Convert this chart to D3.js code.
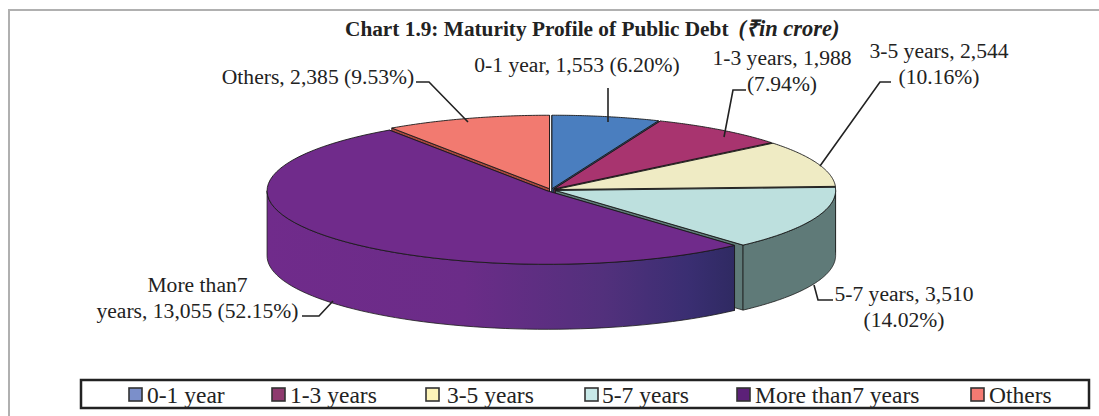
<!DOCTYPE html>
<html><head><meta charset="utf-8">
<script src="https://cdn.jsdelivr.net/npm/d3@7"></script>
<style>html,body{margin:0;padding:0;background:#fff}svg{display:block}text{font-family:"Liberation Serif",serif;fill:#222}</style>
</head><body><svg id="c" width="1099" height="416"></svg>
<script>
const categories = ["0-1 year","1-3 years","3-5 years","5-7 years","More than7 years","Others"];
const values = [1553,1988,2544,3510,13055,2385];
const topColors = ["#4a7ebf","#a8346f","#efebc4","#bde0de","#702b8b","#f27a70"];
const sideColors = ["#2f5f96","#7c2450","#a8a585","#5f7a78","#4f2f78","#a8483f"];
const legendColors = ["#7b8fca","#8e3a6e","#fdf4b8","#c8e9e8","#5c2078","#f47a72"];
const legendX = [129,272,426,585,737,971];
const legendGap = [18,18,21,17,18,18];
const labels = [
  {lines:["0-1 year, 1,553 (6.20%)"],x:577,y:72},
  {lines:["1-3 years, 1,988","(7.94%)"],x:782,y:65},
  {lines:["3-5 years, 2,544","(10.16%)"],x:939,y:58},
  {lines:["5-7 years, 3,510","(14.02%)"],x:904,y:301},
  {lines:["More than7","years, 13,055 (52.15%)"],x:197.5,y:292},
  {lines:["Others, 2,385 (9.53%)"],x:318,y:84}
];
const leaders = [
  [[608,88],[608,122]],
  [[746,90],[733,90],[724,137]],
  [[891,82],[880,82],[820,166]],
  [[833,300],[818,300],[814,285]],
  [[302,316],[319,316],[333,301]],
  [[416,82],[429,82],[468,122]]
];
const svg = d3.select("#c");
const cx=551, cy=190, rx=280, ry=73.5, depth=65, explode=5;
const defs = svg.append("defs");
const g = defs.append("linearGradient").attr("id","wall").attr("gradientUnits","userSpaceOnUse")
  .attr("x1",267).attr("x2",735).attr("y1",0).attr("y2",0);
[[0,"#702b8b"],[.42,"#6b2c88"],[.72,"#52307c"],[.9,"#3a2e72"],[1,"#2f2a62"]].forEach(s=>g.append("stop").attr("offset",s[0]).attr("stop-color",s[1]));

svg.append("path").attr("d",d3.line()([[9,416],[9,10],[1099,10]])).attr("fill","none").attr("stroke","#b0b0b0").attr("stroke-width",2);

const pie = d3.pie().sort(null).value(d=>d)(values);
const proj = (t,off)=>[off[0]+rx*Math.sin(t), off[1]-ry*Math.cos(t)];
const arcs = pie.map((p,i)=>{
  const m=(p.startAngle+p.endAngle)/2;
  return {i,a0:p.startAngle,a1:p.endAngle,m,off:[cx+explode*Math.sin(m),cy-explode*ry/rx*Math.cos(m)]};
});
const ln = d3.line();
const sample=(a,b,off,dy=0)=>d3.range(0,61).map(k=>{const t=a+(b-a)*k/60;const q=proj(t,off);return [q[0],q[1]+dy];});
const order = arcs.slice().sort((a,b)=>(-Math.cos(a.m))-(-Math.cos(b.m)));
const walls = svg.append("g");
order.forEach(d=>{
  [d.a0,d.a1].forEach(t=>{
    const q=proj(t,d.off);
    walls.append("path").attr("d",ln([d.off,q,[q[0],q[1]+depth],[d.off[0],d.off[1]+depth]])+"Z")
      .attr("fill",sideColors[d.i]).attr("stroke","#1a1a1a").attr("stroke-width",.8);
  });
  const a=Math.max(d.a0,Math.PI/2), b=Math.min(d.a1,3*Math.PI/2);
  if(b>a){
    const pts=sample(a,b,d.off).concat(sample(b,a,d.off,depth));
    walls.append("path").attr("d",ln(pts)+"Z").attr("stroke","#1a1a1a").attr("stroke-width",.8)
      .attr("fill",d.i===4?"url(#wall)":sideColors[d.i]);
  }
});
const tops = svg.append("g");
arcs.forEach(d=>{
  const pts=[d.off].concat(sample(d.a0,d.a1,d.off));
  tops.append("path").attr("d",ln(pts)+"Z").attr("fill",topColors[d.i]).attr("stroke","#1a1a1a").attr("stroke-width",.9).attr("stroke-linejoin","round");
});
svg.append("g").selectAll("path").data(leaders).join("path").attr("d",d=>ln(d)).attr("fill","none").attr("stroke","#222").attr("stroke-width",1.6);
labels.forEach(l=>{
  const t=svg.append("text").attr("text-anchor","middle").attr("font-size",21.6);
  l.lines.forEach((s,i)=>t.append("tspan").attr("x",l.x).attr("y",l.y+i*26).text(s));
});
const title=svg.append("text").attr("x",345).attr("y",36).attr("font-size",21.3).attr("font-weight","bold");
title.append("tspan").text("Chart 1.9: Maturity Profile of Public Debt");
title.append("tspan").attr("dx",10).attr("font-size",22.5).attr("font-style","italic").text("(₹in crore)");
svg.append("rect").attr("x",81).attr("y",380).attr("width",1008).attr("height",28).attr("fill","#fff").attr("stroke","#222").attr("stroke-width",2.5);
categories.forEach((c,i)=>{
  svg.append("rect").attr("x",legendX[i]).attr("y",388).attr("width",13).attr("height",13).attr("fill",legendColors[i]).attr("stroke","#333").attr("stroke-width",1.6);
  svg.append("text").attr("x",legendX[i]+legendGap[i]).attr("y",403).attr("font-size",23.5).text(c);
});
</script></body></html>
